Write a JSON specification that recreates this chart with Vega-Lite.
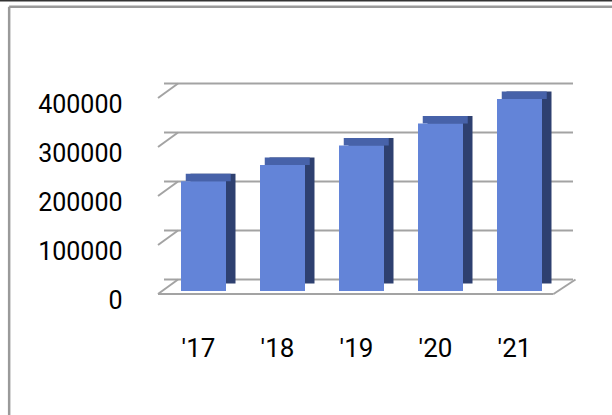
{
  "$schema": "https://vega.github.io/schema/vega-lite/v6.json",
  "autosize": "none",
  "width": 395,
  "height": 196,
  "padding": {"left": 164, "top": 95, "right": 53, "bottom": 124},
  "background": "#ffffff",
  "config": {
    "view": {"stroke": null},
    "font": "Roboto",
    "axis": {"ticks": false, "domain": false, "grid": false, "labelColor": "#000000", "labelFont": "Roboto", "labelOverlap": false, "labelFlush": false}
  },
  "layer": [
    {
      "data": {"values": [{"t": 0}, {"t": 100000}, {"t": 200000}, {"t": 300000}, {"t": 400000}]},
      "mark": {"type": "rule", "color": "#a3a3a3", "strokeWidth": 2, "xOffset": 14, "x2Offset": 16.5, "yOffset": -11.5},
      "encoding": {
        "y": {"field": "t", "type": "quantitative", "title": null, "scale": {"domain": [0, 400000], "nice": false}}
      }
    },
    {
      "data": {"values": [{"t": 0}, {"t": 100000}, {"t": 200000}, {"t": 300000}, {"t": 400000}]},
      "mark": {"type": "rule", "color": "#a3a3a3", "strokeWidth": 2, "xOffset": -6, "x2Offset": 14, "yOffset": 3, "y2Offset": -11.5},
      "encoding": {
        "x": {"datum": 2016.5, "type": "quantitative", "title": null},
        "x2": {"datum": 2016.5},
        "y": {"field": "t", "type": "quantitative", "title": null},
        "y2": {"field": "t"}
      }
    },
    {
      "data": {"values": [{"t": 0}]},
      "mark": {"type": "rule", "color": "#a3a3a3", "strokeWidth": 2, "xOffset": -6, "x2Offset": -5.5, "yOffset": 3, "y2Offset": 3},
      "encoding": {
        "x": {"datum": 2016.5, "type": "quantitative", "title": null},
        "x2": {"datum": 2021.5},
        "y": {"field": "t", "type": "quantitative", "title": null},
        "y2": {"field": "t"}
      }
    },
    {
      "data": {"values": [{"t": 0}]},
      "mark": {"type": "rule", "color": "#a3a3a3", "strokeWidth": 2, "xOffset": -5.5, "x2Offset": 16.5, "yOffset": 3, "y2Offset": -11.5},
      "encoding": {
        "x": {"datum": 2021.5, "type": "quantitative", "title": null},
        "x2": {"datum": 2021.5},
        "y": {"field": "t", "type": "quantitative", "title": null},
        "y2": {"field": "t"}
      }
    },
    {
      "data": {"values": [{"t": 0}]},
      "mark": {"type": "rule", "color": "#9a9a9a", "strokeWidth": 2.5},
      "encoding": {
        "x": {"datum": 2014.54, "type": "quantitative", "title": null},
        "x2": {"datum": 2022.6},
        "y": {"datum": 580200, "type": "quantitative", "title": null},
        "y2": {"datum": 580200}
      }
    },
    {
      "data": {"values": [{"t": 0}]},
      "mark": {"type": "rule", "color": "#9a9a9a", "strokeWidth": 2.5},
      "encoding": {
        "x": {"datum": 2014.54, "type": "quantitative", "title": null},
        "x2": {"datum": 2014.54},
        "y": {"datum": 580200, "type": "quantitative", "title": null},
        "y2": {"datum": -300000}
      }
    },
    {
      "data": {"values": [{"t": 0}]},
      "mark": {"type": "rule", "color": "#333333", "strokeWidth": 1.5},
      "encoding": {
        "x": {"datum": 2014.2, "type": "quantitative", "title": null},
        "x2": {"datum": 2022.6},
        "y": {"datum": 592400, "type": "quantitative", "title": null},
        "y2": {"datum": 592400}
      }
    },
    {
      "data": {"values": [
        {"year": 2017, "value": 224000},
        {"year": 2018, "value": 257000},
        {"year": 2019, "value": 297000},
        {"year": 2020, "value": 342000},
        {"year": 2021, "value": 392000}
      ]},
      "mark": {"type": "bar", "width": 45, "color": "#2e4070", "xOffset": 9.5, "yOffset": -7.5, "y2Offset": -7.5},
      "encoding": {
        "x": {"field": "year", "type": "quantitative", "title": null},
        "y": {"field": "value", "type": "quantitative", "title": null}
      }
    },
    {
      "data": {"values": [
        {"year": 2017, "value": 224000},
        {"year": 2018, "value": 257000},
        {"year": 2019, "value": 297000},
        {"year": 2020, "value": 342000},
        {"year": 2021, "value": 392000}
      ]},
      "mark": {"type": "bar", "width": 45, "color": "#4762a9", "xOffset": 4.75, "yOffset": -7.5, "y2Offset": 0},
      "encoding": {
        "x": {"field": "year", "type": "quantitative", "title": null},
        "y": {"field": "value", "type": "quantitative", "title": null},
        "y2": {"field": "value"}
      }
    },
    {
      "data": {"values": [
        {"year": 2017, "value": 224000},
        {"year": 2018, "value": 257000},
        {"year": 2019, "value": 297000},
        {"year": 2020, "value": 342000},
        {"year": 2021, "value": 392000}
      ]},
      "mark": {"type": "bar", "width": 45, "color": "#6384d8"},
      "encoding": {
        "x": {
          "field": "year", "type": "quantitative", "title": null,
          "scale": {"domain": [2016.5, 2021.5], "nice": false, "zero": false, "padding": 0},
          "axis": {
            "values": [2017, 2018, 2019, 2020, 2021],
            "format": "d",
            "labelExpr": "\"'\" + substring(datum.label, 2, 4)",
            "labelFontSize": 26,
            "labelPadding": 44, "labelOffset": -5.5
          }
        },
        "y": {
          "field": "value", "type": "quantitative", "title": null,
          "axis": {
            "values": [0, 100000, 200000, 300000, 400000],
            "format": "d",
            "labelFontSize": 25,
            "labelPadding": 42, "labelOffset": 9
          }
        }
      }
    }
  ]
}
